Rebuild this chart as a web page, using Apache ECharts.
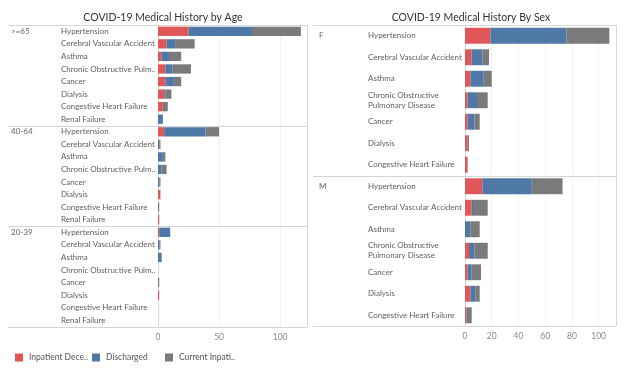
<!DOCTYPE html>
<html>
<head>
<meta charset="utf-8">
<script src="https://cdn.jsdelivr.net/npm/echarts@6/dist/echarts.min.js"></script>
<style>
html,body{margin:0;padding:0;background:#fff;}
#main{width:624px;height:368px;}
</style>
</head>
<body>
<div id="main"></div>
<script>
// ---- Data ----
const seriesNames = ['Inpatient Deceased', 'Discharged', 'Current Inpatient'];
const ageGroups = ['>=65', '40-64', '20-39'];
const sexGroups = ['F', 'M'];
const ageCategories = ['Hypertension', 'Cerebral Vascular Accident', 'Asthma', 'Chronic Obstructive Pulmonary Disease', 'Cancer', 'Dialysis', 'Congestive Heart Failure', 'Renal Failure'];
const sexCategories = ['Hypertension', 'Cerebral Vascular Accident', 'Asthma', 'Chronic Obstructive Pulmonary Disease', 'Cancer', 'Dialysis', 'Congestive Heart Failure'];

const age65Deceased   = [25, 7, 3, 6, 6, 5, 4, 0];
const age65Discharged = [52, 7, 6, 6, 7, 1, 0, 4];
const age65Current    = [40, 16, 10, 15, 6, 5, 4, 0];

const age40Deceased   = [5, 0, 0, 0, 0, 2, 0, 1];
const age40Discharged = [34, 1, 4, 3, 1, 0, 0, 0];
const age40Current    = [11, 1, 2, 4, 1, 0, 1, 0];

const age20Deceased   = [1, 0, 0, 0, 0, 1, 0, 0];
const age20Discharged = [9, 1, 3, 0, 0, 0, 0, 0];
const age20Current    = [0, 1, 0, 0, 1, 0, 0, 0];

const femaleDeceased   = [19, 5, 4, 2, 2, 2, 2];
const femaleDischarged = [57, 8, 10, 7, 5, 0, 0];
const femaleCurrent    = [32, 5, 6, 8, 4, 1, 0];

const maleDeceased   = [13, 5, 0, 3, 2, 4, 1];
const maleDischarged = [37, 1, 4, 4, 3, 4, 0];
const maleCurrent    = [23, 11, 7, 10, 7, 3, 4];

const ageTicks = [0, 50, 100];
const sexTicks = [0, 20, 40, 60, 80, 100];

// ---- Styles ----
const colors = ['#e15759', '#4e79a7', '#7a7a7a'];
const FONT = 'Lato';
const borderColor = '#d6d6d6';
const gridColor = '#f1f1f1';

const ageData = [
  [age65Deceased, age65Discharged, age65Current],
  [age40Deceased, age40Discharged, age40Current],
  [age20Deceased, age20Discharged, age20Current]
];
const sexData = [
  [femaleDeceased, femaleDischarged, femaleCurrent],
  [maleDeceased, maleDischarged, maleCurrent]
];

// Layout
const L = { left: 158, right: 307, top: 25, secH: 100.5, panelLeft: 8, labelX: 61, secLabelX: 11, max: 122 };
const R = { left: 465, right: 616, top: 25, secH: 150.5, panelLeft: 313, labelX: 368, secLabelX: 319, max: 113 };

const grids = [], xAxes = [], yAxes = [], series = [];

function addPanel(P, groups, cats, data, ticks, interval, wrap) {
  groups.forEach((g, gi) => {
    const idx = grids.length;
    const isLast = gi === groups.length - 1;
    grids.push({ left: P.left, top: P.top + gi * P.secH, width: P.right - P.left, height: P.secH, containLabel: false });
    xAxes.push({
      gridIndex: idx, type: 'value', min: 0, max: P.max, interval: interval,
      axisLine: { show: false }, axisTick: { show: false },
      splitLine: { show: true, lineStyle: { color: gridColor, width: 1 } },
      axisLabel: {
        show: isLast, color: '#8a8a8a', fontFamily: FONT, fontSize: 8.5, margin: 6,
        formatter: v => (ticks.indexOf(v) >= 0 ? String(v) : '')
      }
    });
    yAxes.push({
      gridIndex: idx, type: 'category', inverse: true, data: cats,
      axisLine: { show: true, lineStyle: { color: borderColor } },
      axisTick: { show: false },
      splitLine: { show: false },
      axisLabel: wrap ? {
        align: 'left', margin: P.left - P.labelX, color: '#606060', fontFamily: FONT, fontSize: 8,
        width: 101, overflow: 'break', lineHeight: 10
      } : {
        align: 'left', margin: P.left - P.labelX, color: '#606060', fontFamily: FONT, fontSize: 8,
        width: 97, overflow: 'truncate', ellipsis: '..'
      }
    });
    data[gi].forEach((vals, si) => {
      series.push({
        name: seriesNames[si], type: 'bar', stack: 'g' + idx,
        xAxisIndex: idx, yAxisIndex: idx,
        data: vals, barWidth: '74%',
        itemStyle: { color: colors[si] },
        emphasis: { disabled: true }
      });
    });
  });
}

addPanel(L, ageGroups, ageCategories, ageData, ageTicks, 50, false);
addPanel(R, sexGroups, sexCategories, sexData, sexTicks, 20, true);

const legendX = [10, 87, 160];
const legends = seriesNames.map((n, i) => ({
  data: [n], left: legendX[i], top: 348, itemWidth: 8, itemHeight: 8, icon: 'rect', itemGap: 4,
  selectedMode: false,
  textStyle: { color: '#555', fontFamily: FONT, fontSize: 8.5, width: 62, overflow: 'truncate', ellipsis: '..', padding: [0, 0, 0, 1] }
}));

const chart = echarts.init(document.getElementById('main'), null, { renderer: 'canvas' });
chart.setOption({
  backgroundColor: '#fff',
  animation: false,
  title: [
    { text: 'COVID-19 Medical History by Age', left: 158, top: 7, textAlign: 'center', textStyle: { fontFamily: FONT, fontSize: 10.5, fontWeight: 'normal', color: '#333' } },
    { text: 'COVID-19 Medical History By Sex', left: 466, top: 7, textAlign: 'center', textStyle: { fontFamily: FONT, fontSize: 10.5, fontWeight: 'normal', color: '#333' } }
  ],
  legend: legends,
  grid: grids, xAxis: xAxes, yAxis: yAxes, series: series
});

// Panel borders, separators and section labels
function panelGraphics(P, groups, gridStart) {
  const els = [];
  const bottom = P.top + groups.length * P.secH;
  for (let i = 0; i <= groups.length; i++) {
    const y = Math.round(P.top + i * P.secH) + 0.5;
    els.push({ type: 'line', shape: { x1: P.panelLeft, y1: y, x2: P.right, y2: y }, style: { stroke: borderColor, lineWidth: 1 }, silent: true });
  }
  els.push({ type: 'line', shape: { x1: P.right + 0.5, y1: P.top, x2: P.right + 0.5, y2: bottom }, style: { stroke: borderColor, lineWidth: 1 }, silent: true });
  groups.forEach((g, gi) => {
    const y = chart.convertToPixel({ yAxisIndex: gridStart + gi }, 0);
    els.push({ type: 'text', x: P.secLabelX, y: y, style: { text: g, fill: '#666', font: '8px ' + FONT, textVerticalAlign: 'middle', verticalAlign: 'middle' }, silent: true });
  });
  return els;
}
chart.setOption({
  graphic: panelGraphics(L, ageGroups, 0).concat(panelGraphics(R, sexGroups, 3))
});
</script>
</body>
</html>
